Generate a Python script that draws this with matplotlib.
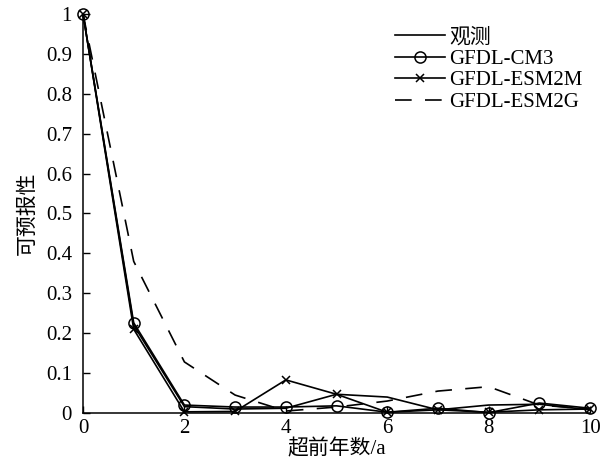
import matplotlib
matplotlib.use("Agg")
import matplotlib.pyplot as plt

plt.rcParams['font.family'] = ['Liberation Serif', 'Noto Sans CJK SC']
plt.rcParams['axes.unicode_minus'] = False

lead_years = [0, 1, 2, 3, 4, 5, 6, 7, 8, 9, 10]
obs = [1.0, 0.22, 0.016, 0.010, 0.012, 0.047, 0.040, 0.008, 0.020, 0.022, 0.008]
cm3 = [1.0, 0.226, 0.020, 0.015, 0.015, 0.018, 0.002, 0.012, 0.001, 0.025, 0.012]
esm2m = [1.0, 0.21, 0.003, 0.004, 0.083, 0.047, 0.002, 0.008, 0.002, 0.008, 0.010]
esm2g = [1.0, 0.38, 0.128, 0.045, 0.005, 0.015, 0.030, 0.055, 0.066, 0.020, 0.010]

names = ['观测', 'GFDL-CM3', 'GFDL-ESM2M', 'GFDL-ESM2G']
xticks = [0, 2, 4, 6, 8, 10]
yticks = [0, 0.1, 0.2, 0.3, 0.4, 0.5, 0.6, 0.7, 0.8, 0.9, 1]
ytick_labels = ['0', '0.1', '0.2', '0.3', '0.4', '0.5', '0.6', '0.7', '0.8', '0.9', '1']

fig = plt.figure(figsize=(6.08, 4.62), dpi=100)
ax = fig.add_axes([0.1365, 0.106, 0.834, 0.864])

ax.plot(lead_years, obs, color='k', lw=1.2, label=names[0], clip_on=False)
ax.plot(lead_years, cm3, color='k', lw=1.2, marker='o', ms=8, mfc='none',
        mew=1.1, label=names[1], clip_on=False)
ax.plot(lead_years, esm2m, color='k', lw=1.2, marker='x', ms=6, mew=1.1,
        label=names[2], clip_on=False)
ax.plot(lead_years, esm2g, color='k', lw=1.2, ls=(0, (10, 8)),
        label=names[3], clip_on=False)

ax.set_xlim(0, 10)
ax.set_ylim(0, 1)
ax.set_xticks(xticks)
ax.set_yticks(yticks)
ax.set_yticklabels(ytick_labels)
ax.tick_params(direction='in', labelsize=15, length=5, width=1)
ax.tick_params(axis='y', pad=8)
ax.tick_params(axis='x', pad=4)
for side in ['top', 'right']:
    ax.spines[side].set_visible(False)
for side in ['left', 'bottom']:
    ax.spines[side].set_linewidth(1.1)

ax.set_xlabel('超前年数/a', fontsize=15, labelpad=1)
ax.set_ylabel('可预报性', fontsize=15, labelpad=6)

ax.legend(loc='upper right', bbox_to_anchor=(1.01, 0.997), frameon=False,
          fontsize=15, handlelength=2.4, handletextpad=0.2, labelspacing=0.1,
          borderaxespad=0.2)

fig.savefig('out.png', dpi=100)
